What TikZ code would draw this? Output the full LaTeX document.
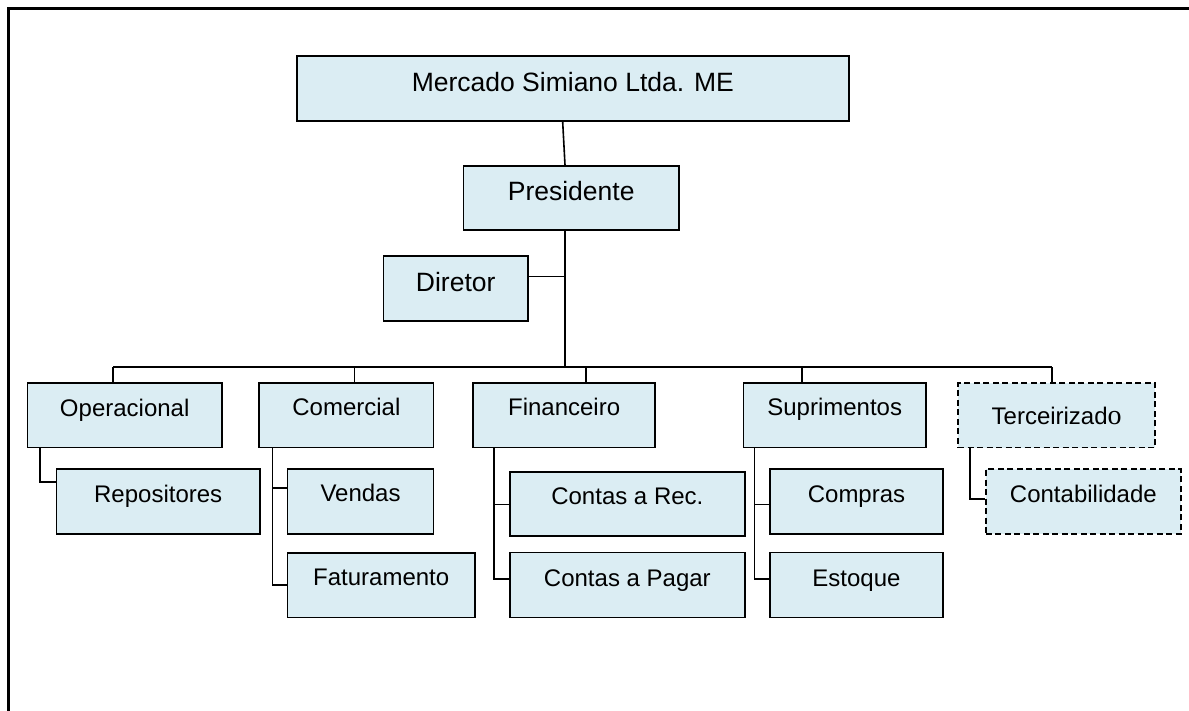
\documentclass[tikz,border=0pt]{standalone}
\usepackage{fontspec}
\setmainfont{Liberation Sans}
\newfontfamily\oddserif{Liberation Serif}
\definecolor{unitfill}{HTML}{DBEDF3}
\tikzset{
  unit/.style={draw=black, fill=unitfill, line width=1.7pt, inner sep=0pt},
  outsourced/.style={unit, dashed, dash pattern=on 6pt off 3.5pt},
  toptext/.style={anchor=base, inner sep=0pt, font=\fontsize{26.5}{30}\selectfont},
  unittext/.style={anchor=base, inner sep=0pt, font=\fontsize{24}{28}\selectfont},
  link/.style={draw=black, line width=1.6pt},
  frame/.style={draw=black, line width=3pt}
}
% box given by its top-left and bottom-right corners (y grows downward)
\newcommand\unitbox[6][]{%
  \node[unit,#1,anchor=north west,
        minimum width={(#5-#3)*1pt},
        minimum height={(#6-#4)*1pt}] (#2) at (#3,#4) {};}
\begin{document}
\begin{tikzpicture}[x=1pt,y=-1pt]
\useasboundingbox (0,0) rectangle (1189,711);

% page frame (top and left edges)
\draw[frame] (8.5,711) -- (8.5,9) -- (1189,9);

% boxes
\unitbox{mer}{296}{55}{848}{120.5}
\unitbox{pres}{462.7}{165}{678}{229}
\unitbox{dir}{382.7}{255}{527}{320}
\unitbox{op}{26.7}{382.3}{221}{446.7}
\unitbox{com}{258.3}{382.3}{432.7}{446.7}
\unitbox{fin}{472.3}{382.3}{654.3}{446.7}
\unitbox{sup}{742.7}{382.3}{925}{446.7}
\unitbox[outsourced]{ter}{957.3}{382.3}{1154.3}{446.7}
\unitbox{rep}{55.7}{468.3}{259}{533.3}
\unitbox{ven}{286.7}{468.3}{432.7}{533.3}
\unitbox{fat}{286.7}{552.3}{474}{616.7}
\unitbox{rec}{509}{471}{744}{535}
\unitbox{pag}{509}{551.7}{744}{616.7}
\unitbox{cpr}{769}{468.3}{942.3}{533.3}
\unitbox{est}{769}{551.7}{942.3}{616.7}
\unitbox[outsourced]{ctb}{985}{468.3}{1180}{533.3}

% labels
\node[toptext] (mer-t) at ([yshift=-36.7pt]mer.north) {Mercado Simiano Ltda. ME};
\node[toptext] (pres-t) at ([yshift=-36pt]pres.north) {Presidente};
\node[toptext] (dir-t) at ([yshift=-36.7pt]dir.north) {Diretor};
\node[unittext] (op-t) at ([yshift=-34pt]op.north) {Operacional};
\node[unittext] (com-t) at ([yshift=-33.4pt]com.north) {Comercial};
\node[unittext] (fin-t) at ([yshift=-33.4pt]fin.north) {Financeiro};
\node[unittext] (sup-t) at ([yshift=-33.4pt]sup.north) {Suprimentos};
\node[unittext] (ter-t) at ([yshift=-41.7pt]ter.north) {Terceirizad{\oddserif\fontsize{28}{30}\selectfont o}};
\node[unittext] (rep-t) at ([yshift=-34pt]rep.north) {Repositores};
\node[unittext] (ven-t) at ([yshift=-33.4pt]ven.north) {Vendas};
\node[unittext] (fat-t) at ([yshift=-32.7pt]fat.north) {Faturamento};
\node[unittext] (rec-t) at ([yshift=-33pt]rec.north) {Contas a Rec.};
\node[unittext] (pag-t) at ([yshift=-34.3pt]pag.north) {Contas a Pagar};
\node[unittext] (cpr-t) at ([yshift=-34pt]cpr.north) {Compras};
\node[unittext] (est-t) at ([yshift=-34.3pt]est.north) {Estoque};
\node[unittext] (ctb-t) at ([yshift=-34pt]ctb.north) {Contabilidade};

% upper hierarchy
\coordinate (spine) at (565,367);
\draw[link] (562.7,0 |- mer.south) -- (565,0 |- pres.north);
\draw[link] (565,0 |- pres.south) -- (spine);
\draw[link] (dir.east |- 0,276.7) -- (565,276.7);

% department bus
\coordinate (busL) at (113,367);
\coordinate (busR) at (1052,367);
\draw[link] (busL) -- (busR);
\draw[link] (busL) -- (113,0 |- op.north);
\draw[link] (354.3,367) -- (354.3,0 |- com.north);
\draw[link] (585.7,367) -- (585.7,0 |- fin.north);
\draw[link] (801.7,367) -- (801.7,0 |- sup.north);
\draw[link] (busR) -- (1052,0 |- ter.north);

% sub-units
\draw[link] (40,0 |- op.south) |- (rep.west |- 0,481.7);
\draw[link] (272.3,0 |- com.south) |- (ven.west |- 0,487.7);
\draw[link] (272.3,0 |- com.south) |- (fat.west |- 0,585);
\draw[link] (494,0 |- fin.south) |- (rec.west |- 0,504.3);
\draw[link] (494,0 |- fin.south) |- (pag.west |- 0,579);
\draw[link] (754.3,0 |- sup.south) |- (cpr.west |- 0,504.3);
\draw[link] (754.3,0 |- sup.south) |- (est.west |- 0,579);
\draw[link] (970,0 |- ter.south) |- (ctb.west |- 0,499);
\end{tikzpicture}
\end{document}
